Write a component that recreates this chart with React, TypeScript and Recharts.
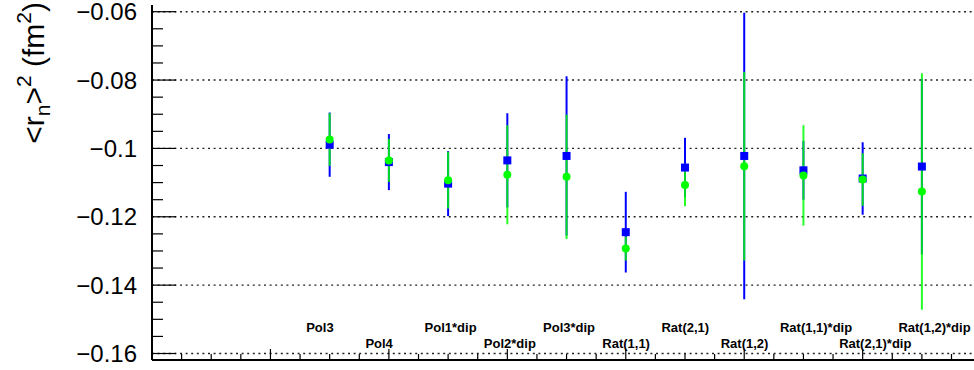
import {
  ErrorBar,
  ReferenceLine,
  Scatter,
  ScatterChart,
  XAxis,
  YAxis,
} from "recharts";

const categories = [
  "Pol3",
  "Pol4",
  "Pol1*dip",
  "Pol2*dip",
  "Pol3*dip",
  "Rat(1,1)",
  "Rat(2,1)",
  "Rat(1,2)",
  "Rat(1,1)*dip",
  "Rat(2,1)*dip",
  "Rat(1,2)*dip",
];

// blue squares
const blueValues = [-0.0989, -0.104, -0.1103, -0.1035, -0.1022, -0.1245, -0.1056, -0.1022, -0.1064, -0.1088, -0.1053];
const blueErrors = [0.0094, 0.0082, 0.0095, 0.0138, 0.0233, 0.0118, 0.0087, 0.0419, 0.0086, 0.0106, 0.0257];

// green circles
const greenValues = [-0.0974, -0.1035, -0.1093, -0.1077, -0.1083, -0.1293, -0.1107, -0.1052, -0.1079, -0.1091, -0.1126];
const greenErrors = [0.0077, 0.0063, 0.0083, 0.0145, 0.0182, 0.0035, 0.0062, 0.0276, 0.0147, 0.0077, 0.0346];

const yMajorTicks = [-0.16, -0.14, -0.12, -0.1, -0.08, -0.06];
const yTickLabels = ["\u22120.16", "\u22120.14", "\u22120.12", "\u22120.1", "\u22120.08", "\u22120.06"];

const FIRST_BIN = 3;
const X_DOMAIN: [number, number] = [0, 13.88];
const Y_DOMAIN: [number, number] = [-0.1619, -0.05804];

const FONT = '"Liberation Sans", Arial, Helvetica, sans-serif';

const blueData = blueValues.map((y, i) => ({ x: FIRST_BIN + i, y, err: blueErrors[i] }));
const greenData = greenValues.map((y, i) => ({ x: FIRST_BIN + i, y, err: greenErrors[i] }));

// x ticks every half unit, y minor ticks every 0.005
const xTicks: number[] = [];
for (let i = 0; i * 0.5 < X_DOMAIN[1]; i++) xTicks.push(i * 0.5);
const yTicks: number[] = [];
for (let i = 0; i <= 20; i++) yTicks.push(Math.round((-0.16 + i * 0.005) * 1e4) / 1e4);

function YTick(props: any) {
  const { x, y, payload } = props;
  const idx = yMajorTicks.findIndex((t) => Math.abs(t - payload.value) < 1e-7);
  const major = idx >= 0;
  return (
    <g>
      <line x1={x} x2={x + (major ? 24 : 11)} y1={y} y2={y} stroke="#000" strokeWidth={1.2} />
      {major && (
        <text x={x - 15} y={y} dy={8.6} textAnchor="end" fontSize={24} fontFamily={FONT} fill="#000">
          {yTickLabels[idx]}
        </text>
      )}
    </g>
  );
}

function XTick(props: any) {
  const { x, y, payload } = props;
  const v = payload.value;
  const major = Math.abs(v % 2) < 1e-7;
  const ci = v - FIRST_BIN;
  const isCat = Number.isInteger(ci) && ci >= 0 && ci < categories.length;
  return (
    <g>
      <line x1={x} x2={x} y1={y} y2={y - (major ? 11 : 6)} stroke="#000" strokeWidth={1.2} />
      {isCat && (
        <text
          x={x - 23.5}
          y={y - (ci % 2 === 0 ? 28 : 12.5)}
          fontSize={13}
          fontWeight="bold"
          fontFamily={FONT}
          fill="#000"
        >
          {categories[ci]}
        </text>
      )}
    </g>
  );
}

function YTitle() {
  return (
    <text
      transform="translate(44,2) rotate(-90)"
      textAnchor="end"
      fontSize={30}
      fontFamily={FONT}
      fill="#000"
    >
      <tspan>{"<r"}</tspan>
      <tspan fontSize={21} dy={6}>n</tspan>
      <tspan dy={-6}>{">"}</tspan>
      <tspan fontSize={21} dy={-13}>2</tspan>
      <tspan dy={13}>{" (fm"}</tspan>
      <tspan fontSize={21} dy={-13}>2</tspan>
      <tspan dy={13}>)</tspan>
    </text>
  );
}

const square = (p: any) => <rect x={p.cx - 4} y={p.cy - 4} width={8} height={8} fill="#0000ff" />;
const dot = (p: any) => <circle cx={p.cx} cy={p.cy} r={4} fill="#00ff00" />;

export default function App() {
  return (
    <div style={{ position: "absolute", left: 0, top: 0, width: 974, height: 370, background: "#fff" }}>
      <ScatterChart width={974} height={370} margin={{ top: 5, right: 0, bottom: 0, left: 0 }}>
        <XAxis
          type="number"
          dataKey="x"
          domain={X_DOMAIN}
          ticks={xTicks}
          interval={0}
          tickSize={0}
          tickMargin={0}
          tickLine={false}
          tick={<XTick />}
          height={10}
          allowDataOverflow
          axisLine={{ stroke: "#000", strokeWidth: 2 }}
        />
        <XAxis
          xAxisId="top"
          orientation="top"
          type="number"
          domain={X_DOMAIN}
          height={0}
          tick={false}
          tickLine={false}
          allowDataOverflow
          axisLine={{ stroke: "#000", strokeWidth: 2 }}
        />
        <YAxis
          type="number"
          dataKey="y"
          domain={Y_DOMAIN}
          ticks={yTicks}
          interval={0}
          tickSize={0}
          tickMargin={0}
          tickLine={false}
          tick={<YTick />}
          width={152}
          allowDataOverflow
          axisLine={{ stroke: "#000", strokeWidth: 2 }}
          label={<YTitle />}
        />
        {yMajorTicks.map((v) => (
          <ReferenceLine key={v} y={v} stroke="#222" strokeWidth={1.4} strokeDasharray="2 3.6" />
        ))}
        <Scatter data={blueData} dataKey="y" shape={square} isAnimationActive={false}>
          <ErrorBar dataKey="err" direction="y" width={0} stroke="#0000ff" strokeWidth={2} isAnimationActive={false} />
        </Scatter>
        <Scatter data={greenData} dataKey="y" shape={dot} isAnimationActive={false}>
          <ErrorBar
            dataKey="err"
            direction="y"
            width={0}
            stroke="#00ff00"
            strokeOpacity={0.85}
            strokeWidth={2}
            isAnimationActive={false}
          />
        </Scatter>
      </ScatterChart>
    </div>
  );
}
